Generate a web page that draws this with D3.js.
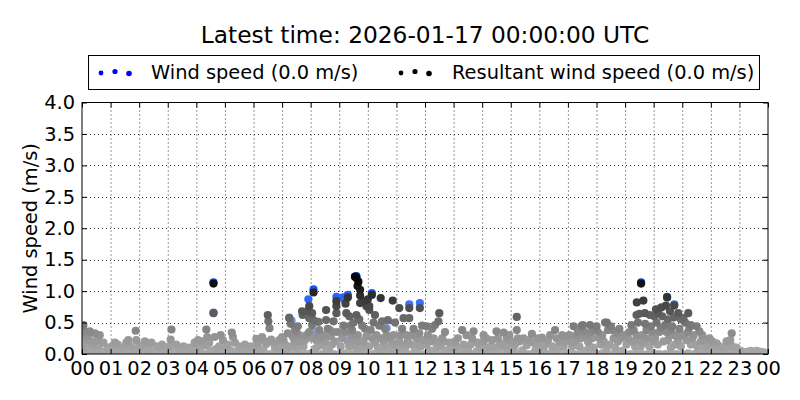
<!DOCTYPE html>
<html><head><meta charset="utf-8">
<script src="https://cdn.jsdelivr.net/npm/d3@7"></script>
<style>
html,body{margin:0;padding:0;background:#fff;}
svg{display:block;font-family:"DejaVu Sans",sans-serif;}
</style></head>
<body>
<svg id="chart" width="800" height="400"></svg>
<script>
const titleText = "Latest time: 2026-01-17 00:00:00 UTC";
const yLabelText = "Wind speed (m/s)";
const legendLabels = ["Wind speed (0.0 m/s)", "Resultant wind speed (0.0 m/s)"];
const xTickHours = [0,1,2,3,4,5,6,7,8,9,10,11,12,13,14,15,16,17,18,19,20,21,22,23,24];
const xTickLabels = ["00","01","02","03","04","05","06","07","08","09","10","11","12","13","14","15","16","17","18","19","20","21","22","23","00"];
const yTicks = [0,0.5,1.0,1.5,2.0,2.5,3.0,3.5,4.0];

// Wind speed points that are visible behind the resultant points: [hour, m/s]
const windSpeed = [
  [0.1,0.3],[0.15,0.22],[4.6,1.14],[4.6,0.66],[7.25,0.58],[7.33,0.53],[7.92,0.87],[8.07,0.36],[8.24,0.33],
  [8.1,1.03],[8.68,0.38],[8.9,0.91],[9.13,0.9],[9.2,0.86],[9.3,0.94],[9.35,0.25],[9.4,0.2],[9.6,1.24],
  [10.14,0.97],[10.66,0.41],[11.45,0.79],[11.82,0.81],[19.56,1.14],[20.47,0.91],[20.72,0.79]
];

// Resultant wind speed points: [hour, m/s]
const resultant = [
  [0.05,0.46],[0.1,0.36],[0.2,0.22],[0.27,0.36],[0.45,0.33],[0.62,0.3],[0.4,0.2],[0.16,0.09],[0.05,0.15],[0.3,0.05],[0.5,0.08],[0.7,0.03],[0.85,0.05],[0.55,0.22],
  [0.12,0.28],[0.35,0.15],[0.58,0.12],[0.75,0.18],[0.9,0.1],[0.22,0.3],
  [1.15,0.18],[1.62,0.22],[1.88,0.37],[1.9,0.22],[1.7,0.12],[1.3,0.08],[1.1,0.05],[1.5,0.03],[1.95,0.1],
  [1.05,0.12],[1.25,0.15],[1.45,0.1],[1.55,0.18],[1.8,0.06],[1.35,0.04],
  [2.2,0.2],[2.43,0.18],[2.3,0.1],[2.72,0.09],[2.9,0.06],[2.1,0.04],[2.55,0.03],
  [2.05,0.12],[2.35,0.06],[2.6,0.12],[2.8,0.15],[2.95,0.05],[2.15,0.15],
  [3.13,0.39],[3.1,0.23],[3.4,0.09],[3.65,0.06],[3.94,0.18],[3.2,0.04],[3.8,0.03],
  [3.05,0.12],[3.3,0.15],[3.5,0.05],[3.75,0.1],[3.9,0.08],[3.55,0.12],
  [4.06,0.22],[4.35,0.39],[4.38,0.27],[4.64,0.27],[4.6,1.12],[4.6,0.65],[4.3,0.14],[4.93,0.22],[4.8,0.12],[4.5,0.06],[4.15,0.05],
  [4.05,0.1],[4.2,0.2],[4.45,0.18],[4.7,0.08],[4.85,0.3],[4.95,0.05],
  [5.24,0.34],[5.28,0.27],[5.05,0.1],[5.6,0.09],[5.8,0.07],[5.4,0.04],
  [5.1,0.15],[5.2,0.06],[5.35,0.18],[5.5,0.12],[5.7,0.15],[5.9,0.12],[5.95,0.03],
  [6.1,0.24],[6.5,0.62],[6.52,0.52],[6.56,0.41],[6.3,0.27],[6.62,0.23],[6.9,0.22],[7.0,0.27],[6.45,0.16],[6.2,0.08],[6.75,0.1],
  [6.05,0.12],[6.15,0.18],[6.35,0.06],[6.4,0.2],[6.7,0.18],[6.85,0.12],[6.95,0.06],
  [7.25,0.57],[7.3,0.48],[7.45,0.4],[7.55,0.44],[7.7,0.68],[7.72,0.62],[7.95,0.76],[7.88,0.68],[7.95,0.57],[7.6,0.3],[7.2,0.33],[7.4,0.25],[7.8,0.22],[7.1,0.15],[7.5,0.12],[7.35,0.3],[7.65,0.2],[7.95,0.35],
  [7.05,0.22],[7.15,0.08],[7.3,0.12],[7.45,0.18],[7.55,0.06],[7.75,0.12],[7.85,0.3],[7.5,0.35],
  [8.1,0.98],[8.05,0.65],[8.1,0.54],[8.05,0.46],[8.27,0.51],[8.54,0.7],[8.54,0.54],[8.8,0.52],[8.9,0.84],[8.9,0.76],[8.9,0.65],[8.3,0.38],[8.6,0.4],[8.45,0.3],[8.7,0.28],[8.2,0.22],[8.85,0.2],[8.4,0.15],[8.65,0.1],[8.15,0.08],[8.95,0.35],
  [8.05,0.25],[8.25,0.12],[8.35,0.25],[8.5,0.2],[8.55,0.06],[8.75,0.15],[8.8,0.35],[8.25,0.3],
  [9.3,0.9],[9.22,0.8],[9.25,0.65],[9.35,0.6],[9.6,0.62],[9.55,1.23],[9.6,1.21],[9.67,1.15],[9.64,1.08],[9.73,1.02],[9.73,0.93],[9.73,0.81],[9.85,0.84],[10.0,0.87],[9.95,0.76],[9.4,0.45],[9.5,0.5],[9.7,0.55],[9.8,0.45],[9.9,0.4],[9.2,0.35],[9.45,0.3],[9.65,0.3],[9.1,0.25],[9.3,0.2],[9.55,0.15],[9.85,0.2],[9.75,0.1],[9.05,0.12],
  [9.15,0.45],[9.35,0.12],[9.5,0.22],[9.6,0.08],[9.7,0.2],[9.9,0.12],[9.95,0.28],[9.45,0.38],
  [10.14,0.94],[10.05,0.76],[10.05,0.7],[10.25,0.62],[10.45,0.89],[10.87,0.85],[10.7,0.54],[10.5,0.52],[10.2,0.5],[10.4,0.45],[10.6,0.4],[10.9,0.3],[10.3,0.3],[10.15,0.25],[10.75,0.25],[10.55,0.2],[10.95,0.15],[10.35,0.1],[10.8,0.08],[10.95,0.5],
  [10.05,0.12],[10.1,0.38],[10.25,0.18],[10.45,0.25],[10.6,0.12],[10.65,0.3],[10.85,0.18],[10.5,0.06],
  [11.1,0.73],[11.45,0.73],[11.82,0.73],[11.25,0.57],[11.45,0.57],[11.6,0.4],[11.2,0.4],[11.9,0.45],[11.35,0.3],[11.7,0.25],[11.1,0.2],[11.5,0.15],[11.85,0.12],[11.3,0.08],[11.65,0.05],
  [11.05,0.1],[11.15,0.3],[11.4,0.2],[11.55,0.3],[11.75,0.15],[11.95,0.22],[11.25,0.15],[11.8,0.33],
  [12.06,0.44],[12.35,0.46],[12.5,0.65],[12.47,0.52],[12.25,0.4],[12.7,0.35],[12.6,0.25],[12.2,0.2],[12.85,0.18],[12.4,0.1],[12.05,0.15],[12.75,0.06],
  [12.1,0.3],[12.3,0.25],[12.45,0.18],[12.55,0.12],[12.65,0.2],[12.9,0.1],[12.15,0.06],
  [13.3,0.38],[13.45,0.3],[13.1,0.12],[13.5,0.08],[13.9,0.1],[13.2,0.05],[13.8,0.04],
  [13.05,0.2],[13.15,0.25],[13.35,0.15],[13.6,0.15],[13.65,0.25],[13.85,0.18],[13.4,0.04],
  [13.7,0.36],[14.05,0.3],[14.05,0.2],[14.5,0.36],[14.75,0.34],[14.86,0.25],[14.3,0.12],[14.63,0.17],[14.2,0.05],[14.9,0.08],
  [14.1,0.1],[14.15,0.25],[14.35,0.22],[14.45,0.1],[14.55,0.25],[14.7,0.12],[14.85,0.15],[14.95,0.3],
  [15.21,0.59],[15.21,0.38],[15.25,0.25],[15.74,0.32],[15.56,0.14],[15.9,0.1],[15.4,0.06],[15.1,0.1],
  [15.05,0.2],[15.15,0.15],[15.3,0.2],[15.45,0.25],[15.65,0.22],[15.8,0.18],[15.85,0.05],[15.95,0.25],
  [16.09,0.26],[16.55,0.38],[16.38,0.3],[16.2,0.15],[16.7,0.2],[16.85,0.12],[16.5,0.06],[16.95,0.28],
  [16.05,0.15],[16.15,0.08],[16.3,0.22],[16.45,0.12],[16.6,0.25],[16.65,0.1],[16.8,0.3],[16.9,0.2],
  [17.2,0.44],[17.52,0.46],[17.47,0.44],[17.77,0.46],[17.55,0.36],[17.3,0.3],[17.8,0.35],[17.1,0.2],[17.7,0.2],[17.4,0.12],[17.9,0.1],[17.6,0.05],
  [17.05,0.3],[17.15,0.12],[17.25,0.2],[17.35,0.35],[17.45,0.25],[17.65,0.3],[17.75,0.12],[17.85,0.25],[17.95,0.38],
  [18.0,0.44],[18.36,0.5],[18.3,0.5],[18.5,0.44],[18.55,0.38],[18.2,0.3],[18.7,0.33],[18.1,0.25],[18.85,0.25],[18.45,0.15],[18.65,0.1],[18.9,0.05],[18.8,0.4],
  [18.05,0.35],[18.15,0.15],[18.25,0.2],[18.4,0.38],[18.6,0.25],[18.75,0.2],[18.95,0.3],[18.35,0.08],
  [19.56,1.12],[19.41,0.82],[19.64,0.85],[19.4,0.62],[19.5,0.64],[19.69,0.65],[19.87,0.62],[20.02,0.6],[19.22,0.46],[19.45,0.5],[19.7,0.48],[19.9,0.44],[19.15,0.35],[19.4,0.3],[19.6,0.3],[19.8,0.25],[19.95,0.35],[19.25,0.2],[19.55,0.12],[19.05,0.15],
  [19.1,0.25],[19.3,0.38],[19.35,0.12],[19.5,0.22],[19.65,0.18],[19.75,0.38],[19.85,0.12],[19.98,0.2],
  [20.08,0.71],[20.16,0.65],[20.27,0.74],[20.43,0.77],[20.47,0.9],[20.72,0.77],[20.57,0.68],[20.86,0.65],[20.3,0.6],[20.5,0.55],[20.7,0.58],[20.95,0.55],[20.1,0.5],[20.4,0.46],[20.65,0.44],[20.9,0.4],[20.2,0.35],[20.55,0.3],[20.8,0.3],[20.35,0.2],[20.75,0.15],[20.05,0.25],[20.6,0.1],
  [20.15,0.15],[20.25,0.42],[20.45,0.35],[20.5,0.22],[20.6,0.38],[20.85,0.22],[20.95,0.12],[20.7,0.3],
  [21.04,0.57],[21.21,0.65],[21.1,0.5],[21.3,0.46],[21.5,0.44],[21.6,0.36],[21.4,0.3],[21.2,0.35],[21.75,0.22],[21.05,0.3],[21.9,0.15],[21.3,0.15],[21.55,0.08],[21.85,0.06],
  [21.15,0.22],[21.25,0.42],[21.35,0.25],[21.45,0.15],[21.65,0.2],[21.7,0.3],[21.8,0.12],[21.95,0.25],
  [22.2,0.17],[22.73,0.33],[22.68,0.22],[22.9,0.1],[22.4,0.08],[22.1,0.12],[22.6,0.05],[22.85,0.04],
  [22.05,0.2],[22.15,0.06],[22.3,0.12],[22.5,0.1],[22.55,0.2],[22.75,0.12],[22.95,0.06],
  [23.4,0.05],[23.6,0.05],[23.82,0.03],[23.2,0.03],[23.05,0.05],[23.3,0.04],[23.5,0.02],[23.7,0.04],[23.9,0.02]
];

// Calm readings along the bottom: [hour, m/s]
const calm = [
  [0.0,0.0],[0.2,0.01],[0.4,0.0],[0.6,0.01],[0.8,0.0],[1.0,0.01],[1.2,0.0],[1.4,0.01],[1.6,0.0],[1.8,0.0],
  [2.0,0.01],[2.2,0.0],[2.4,0.0],[2.6,0.01],[2.8,0.0],[3.0,0.0],[3.2,0.01],[3.4,0.0],[3.6,0.0],[3.8,0.01],
  [4.0,0.0],[4.2,0.0],[4.4,0.01],[4.6,0.0],[4.8,0.0],[5.0,0.01],[5.2,0.0],[5.4,0.0],[5.6,0.01],[5.8,0.0],
  [6.0,0.0],[6.2,0.01],[6.4,0.0],[6.6,0.0],[6.8,0.01],[7.0,0.0],[7.2,0.0],[7.4,0.01],[7.6,0.0],[7.8,0.0],
  [8.0,0.01],[8.2,0.0],[8.4,0.0],[8.6,0.01],[8.8,0.0],[9.0,0.0],[9.2,0.01],[9.4,0.0],[9.6,0.0],[9.8,0.01],
  [10.0,0.0],[10.2,0.0],[10.4,0.01],[10.6,0.0],[10.8,0.0],[11.0,0.01],[11.2,0.0],[11.4,0.0],[11.6,0.01],[11.8,0.0],
  [12.0,0.0],[12.2,0.01],[12.4,0.0],[12.6,0.0],[12.8,0.01],[13.0,0.0],[13.2,0.0],[13.4,0.01],[13.6,0.0],[13.8,0.0],
  [14.0,0.01],[14.2,0.0],[14.4,0.0],[14.6,0.01],[14.8,0.0],[15.0,0.0],[15.2,0.01],[15.4,0.0],[15.6,0.0],[15.8,0.01],
  [16.0,0.0],[16.2,0.0],[16.4,0.01],[16.6,0.0],[16.8,0.0],[17.0,0.01],[17.2,0.0],[17.4,0.0],[17.6,0.01],[17.8,0.0],
  [18.0,0.0],[18.2,0.01],[18.4,0.0],[18.6,0.0],[18.8,0.01],[19.0,0.0],[19.2,0.0],[19.4,0.01],[19.6,0.0],[19.8,0.0],
  [20.0,0.01],[20.2,0.0],[20.4,0.0],[20.6,0.01],[20.8,0.0],[21.0,0.0],[21.2,0.01],[21.4,0.0],[21.6,0.0],[21.8,0.01],
  [22.0,0.0],[22.2,0.0],[22.4,0.01],[22.6,0.0],[22.8,0.0],[23.0,0.01],[23.2,0.0],[23.4,0.0],[23.6,0.01],[23.8,0.0],[24.0,0.0]
];

const svg = d3.select("#chart");
const L = 82, R = 768, T = 102.5, B = 354;
const FS = 19.4;
const x = d3.scaleLinear().domain([0,24]).range([L,R]);
const y = d3.scaleLinear().domain([0,4]).range([B,T]);
const grayColor = d3.scaleLinear().domain([0,0.3,0.6,0.9,1.2])
  .range(["#ababab","#929292","#636363","#333333","#050505"]).clamp(true);
const blueColor = d3.scaleLinear().domain([0,1.2]).range(["#a9c9ff","#0044ff"]).clamp(true);

svg.append("defs").append("clipPath").attr("id","clip")
  .append("rect").attr("x",L).attr("y",T).attr("width",R-L).attr("height",B-T);

// Grid
const grid = svg.append("g");
grid.selectAll("line.gx").data(xTickHours.slice(1,-1)).join("line")
  .attr("x1",d=>x(d)+0.5).attr("x2",d=>x(d)+0.5).attr("y1",T).attr("y2",B)
  .attr("stroke","#000").attr("stroke-width",0.8).attr("stroke-dasharray","1,3");
grid.selectAll("line.gy").data(yTicks.slice(1,-1)).join("line")
  .attr("y1",d=>Math.round(y(d))+0.5).attr("y2",d=>Math.round(y(d))+0.5).attr("x1",L).attr("x2",R)
  .attr("stroke","#000").attr("stroke-width",0.8).attr("stroke-dasharray","1,3");

// Points
const pts = svg.append("g").attr("clip-path","url(#clip)");
const r = 4.1;
pts.selectAll("circle.w").data(windSpeed.slice().sort((a,b)=>a[1]-b[1])).join("circle")
  .attr("cx",d=>x(d[0])).attr("cy",d=>y(d[1])).attr("r",r).attr("fill",d=>blueColor(d[1]));
const allRes = calm.concat(resultant).sort((a,b)=>a[1]-b[1]);
pts.selectAll("circle.r").data(allRes).join("circle")
  .attr("cx",d=>x(d[0])).attr("cy",d=>y(d[1])).attr("r",r).attr("fill",d=>grayColor(d[1]));

// Axes (ticks inward)
const xAxisB = d3.axisBottom(x).tickValues(xTickHours).tickFormat((d,i)=>xTickLabels[i]).tickSizeInner(-5).tickSizeOuter(0).tickPadding(7.5);
const gxb = svg.append("g").attr("transform",`translate(0,${B})`).call(xAxisB);
gxb.select(".domain").remove();
gxb.selectAll("text").attr("font-size",FS+"px").attr("fill","#000").attr("font-family","DejaVu Sans");
gxb.selectAll("line").attr("stroke","#000");
const xAxisT = d3.axisTop(x).tickValues(xTickHours).tickFormat("").tickSizeInner(-5).tickSizeOuter(0);
const gxt = svg.append("g").attr("transform",`translate(0,${T})`).call(xAxisT);
gxt.select(".domain").remove();
const yAxisL = d3.axisLeft(y).tickValues(yTicks).tickFormat(d3.format(".1f")).tickSizeInner(-5).tickSizeOuter(0).tickPadding(7);
const gyl = svg.append("g").attr("transform",`translate(${L},0)`).call(yAxisL);
gyl.select(".domain").remove();
gyl.selectAll("text").attr("font-size",FS+"px").attr("fill","#000").attr("font-family","DejaVu Sans");
const yAxisR = d3.axisRight(y).tickValues(yTicks).tickFormat("").tickSizeInner(-5).tickSizeOuter(0);
const gyr = svg.append("g").attr("transform",`translate(${R},0)`).call(yAxisR);
gyr.select(".domain").remove();

// Frame
svg.append("rect").attr("x",L).attr("y",T).attr("width",R-L).attr("height",B-T)
  .attr("fill","none").attr("stroke","#000").attr("stroke-width",1);

// Title
svg.append("text").attr("x",(L+R)/2).attr("y",43).attr("text-anchor","middle")
  .attr("font-size","23.3px").attr("fill","#000").text(titleText);

// Y label
svg.append("text").attr("transform",`translate(37,${(T+B)/2}) rotate(-90)`).attr("text-anchor","middle")
  .attr("font-size",FS+"px").attr("fill","#000").text(yLabelText);

// Legend
const lg = svg.append("g");
lg.append("rect").attr("x",88.5).attr("y",55.5).attr("width",671).attr("height",34)
  .attr("fill","#fff").attr("stroke","#000").attr("stroke-width",1);
const legendDots = [[101,73,2.4],[115,71.5,2.6],[129,73.5,2.8]];
lg.selectAll("circle.b").data(legendDots).join("circle")
  .attr("cx",d=>d[0]).attr("cy",d=>d[1]).attr("r",d=>d[2]).attr("fill","#0000ff");
lg.selectAll("circle.k").data(legendDots).join("circle")
  .attr("cx",d=>d[0]+300).attr("cy",d=>d[1]).attr("r",d=>d[2]).attr("fill","#000");
lg.append("text").attr("x",151).attr("y",79).attr("font-size",FS+"px").attr("fill","#000").text(legendLabels[0]);
lg.append("text").attr("x",452).attr("y",79).attr("font-size",FS+"px").attr("fill","#000").text(legendLabels[1]);
</script>
</body></html>
